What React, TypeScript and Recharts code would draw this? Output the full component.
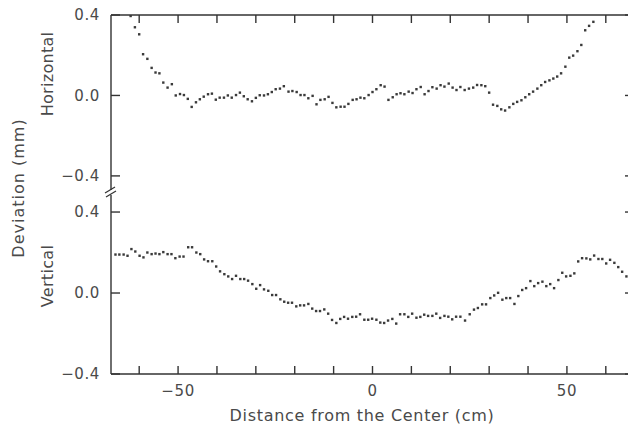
import React from 'react';
import { ScatterChart, Scatter, XAxis, YAxis } from 'recharts';

// Horizontal deviation (top panel)
const horizX = [
  -62.2, -61.1, -60.0, -59.0, -57.9, -56.8, -55.8, -54.8, -53.8, -52.7,
  -51.6, -50.6, -49.5, -48.5, -47.5, -46.5, -45.4, -44.4, -43.4, -42.3,
  -41.3, -40.3, -39.3, -38.2, -37.2, -36.2, -35.1, -34.1, -33.1, -32.1,
  -31.0, -30.0, -29.0, -27.9, -26.9, -25.9, -24.9, -23.8, -22.8, -21.6,
  -20.6, -19.5, -18.5, -17.5, -16.5, -15.4, -14.4, -13.4, -12.3, -11.3,
  -10.3, -9.3, -8.2, -7.2, -6.2, -5.1, -4.1, -3.1, -2.1, -1.0,
  0.0, 1.0, 2.1, 3.1, 4.1, 5.2, 6.2, 7.2, 8.2, 9.3,
  10.3, 11.3, 12.4, 13.4, 14.4, 15.4, 16.5, 17.5, 18.5, 19.6,
  20.6, 21.6, 22.6, 23.7, 24.8, 25.9, 26.9, 28.0, 29.0, 30.0,
  31.0, 32.1, 33.1, 34.1, 35.2, 36.2, 37.2, 38.3, 39.3, 40.3,
  41.3, 42.4, 43.4, 44.4, 45.5, 46.5, 47.5, 48.5, 49.6, 50.6,
  51.6, 52.7, 53.7, 54.7, 55.7, 56.8,
];
const horizY = [
  0.395, 0.339, 0.304, 0.205, 0.182, 0.137, 0.114, 0.110, 0.064, 0.039,
  0.056, 0.000, 0.007, 0.002, -0.017, -0.057, -0.034, -0.019, -0.006, 0.006,
  0.009, -0.021, -0.011, -0.011, 0.000, -0.011, 0.002, 0.014, -0.004, -0.019,
  -0.029, -0.012, 0.001, 0.000, 0.006, 0.017, 0.031, 0.034, 0.046, 0.019,
  0.022, 0.017, 0.002, 0.002, -0.014, -0.002, -0.044, -0.022, -0.019, -0.007,
  -0.037, -0.059, -0.056, -0.056, -0.042, -0.022, -0.019, -0.011, -0.014, 0.002,
  0.017, 0.031, 0.051, 0.044, -0.022, -0.009, 0.006, 0.011, 0.006, 0.019,
  0.012, 0.031, 0.042, 0.006, 0.022, 0.041, 0.034, 0.051, 0.044, 0.059,
  0.039, 0.027, 0.042, 0.027, 0.034, 0.039, 0.052, 0.051, 0.046, 0.014,
  -0.046, -0.052, -0.069, -0.075, -0.059, -0.042, -0.032, -0.024, -0.009, 0.006,
  0.019, 0.034, 0.051, 0.067, 0.075, 0.084, 0.094, 0.110, 0.143, 0.188,
  0.198, 0.220, 0.251, 0.324, 0.346, 0.366,
];

// Vertical deviation (bottom panel)
const vertX = [
  -66.1, -65.1, -64.0, -63.0, -62.0, -61.0, -59.9, -58.9, -57.9, -56.8,
  -55.8, -54.8, -53.8, -52.7, -51.7, -50.7, -49.6, -48.6, -47.4, -46.4,
  -45.3, -44.3, -43.3, -42.3, -41.2, -40.2, -39.2, -38.1, -37.1, -36.1,
  -35.1, -34.0, -33.0, -32.0, -30.9, -29.9, -28.9, -27.9, -26.8, -25.8,
  -24.8, -23.7, -22.7, -21.7, -20.7, -19.6, -18.6, -17.6, -16.5, -15.5,
  -14.5, -13.5, -12.4, -11.4, -10.4, -9.3, -8.3, -7.3, -6.3, -5.2,
  -4.2, -3.2, -2.1, -1.1, -0.1, 1.0, 2.0, 3.0, 4.0, 5.1,
  6.1, 7.1, 8.2, 9.2, 10.2, 11.3, 12.3, 13.3, 14.3, 15.4,
  16.4, 17.4, 18.5, 19.5, 20.5, 21.5, 22.6, 23.8, 25.0, 26.1,
  27.1, 28.2, 29.2, 30.3, 31.3, 32.3, 33.4, 34.4, 35.4, 36.5,
  37.5, 38.5, 39.5, 40.6, 41.6, 42.6, 43.7, 44.7, 45.7, 46.7,
  47.8, 48.8, 49.8, 50.9, 51.9, 52.9, 53.9, 55.0, 56.0, 57.0,
  58.1, 59.1, 60.1, 61.1, 62.2, 63.2, 64.2, 65.3,
];
const vertY = [
  0.190, 0.190, 0.190, 0.184, 0.217, 0.205, 0.184, 0.176, 0.200, 0.192,
  0.195, 0.192, 0.202, 0.192, 0.192, 0.172, 0.180, 0.180, 0.226, 0.226,
  0.200, 0.192, 0.166, 0.157, 0.157, 0.131, 0.107, 0.093, 0.082, 0.069,
  0.085, 0.069, 0.069, 0.061, 0.044, 0.021, 0.039, 0.018, 0.011, -0.010,
  -0.010, -0.031, -0.043, -0.048, -0.048, -0.066, -0.061, -0.061, -0.054, -0.077,
  -0.089, -0.089, -0.081, -0.102, -0.133, -0.148, -0.128, -0.118, -0.127, -0.118,
  -0.117, -0.105, -0.132, -0.132, -0.127, -0.132, -0.146, -0.148, -0.136, -0.128,
  -0.151, -0.105, -0.105, -0.118, -0.102, -0.122, -0.118, -0.107, -0.113, -0.113,
  -0.102, -0.123, -0.113, -0.117, -0.130, -0.117, -0.117, -0.136, -0.105, -0.082,
  -0.074, -0.056, -0.056, -0.025, -0.012, 0.001, -0.033, -0.025, -0.025, -0.054,
  -0.015, 0.015, 0.024, 0.059, 0.034, 0.049, 0.056, 0.034, 0.044, 0.024,
  0.064, 0.100, 0.082, 0.085, 0.097, 0.156, 0.172, 0.171, 0.166, 0.185,
  0.168, 0.168, 0.146, 0.164, 0.149, 0.128, 0.105, 0.082,
];

const xTicks = [-60, -50, -40, -30, -20, -10, 0, 10, 20, 30, 40, 50, 60];
const xLabelTicks = [-50, 0, 50];
const yTicks = [-0.4, 0, 0.4];

const X_DOMAIN: [number, number] = [-67.25, 67.25];
const INK = '#333';
const TEXT = '#4a4a4a';
const FONT = '"DejaVu Sans", sans-serif';

const horizData = horizX.map((x, i) => ({ x, y: horizY[i] }));
const vertData = vertX.map((x, i) => ({ x, y: vertY[i] }));

const minus = (v: number) => (v < 0 ? '\u2212' : '') + Math.abs(v).toFixed(1);
const xFmt = (v: number) =>
  xLabelTicks.includes(v) ? (v < 0 ? '\u2212' : '') + Math.abs(v) : '';

const Dot = (props: any) => {
  const { cx, cy } = props;
  if (cx == null || cy == null) return null;
  return <rect x={cx - 1.2} y={cy - 1.2} width={2.4} height={2.4} fill="#3a3a3a" />;
};

const tickFont = { fontSize: 15, fill: TEXT, fontFamily: FONT, letterSpacing: 0.6 };
const lineStyle = { stroke: INK, strokeWidth: 1.4 };

export default function App() {
  return (
    <div
      style={{
        position: 'absolute',
        left: 0,
        top: 0,
        width: 628,
        height: 433,
        overflow: 'hidden',
        background: '#fff',
        fontFamily: FONT,
      }}
    >
      {/* top panel: Horizontal */}
      <div style={{ position: 'absolute', left: 0, top: 0 }}>
        <ScatterChart width={650} height={200} margin={{ top: 14, left: 51, right: 15, bottom: 7 }}>
          <XAxis
            type="number"
            dataKey="x"
            orientation="top"
            domain={X_DOMAIN}
            allowDataOverflow
            ticks={xTicks}
            interval={0}
            tickFormatter={() => ''}
            tickSize={-8}
            height={1}
            axisLine={lineStyle}
            tickLine={lineStyle}
          />
          <YAxis
            yAxisId="l"
            type="number"
            dataKey="y"
            domain={[-0.485, 0.4]}
            allowDataOverflow
            ticks={yTicks}
            interval={0}
            tickFormatter={minus}
            tickSize={-9}
            tickMargin={20}
            width={60}
            tick={tickFont}
            axisLine={lineStyle}
            tickLine={lineStyle}
          />
          <YAxis
            yAxisId="r"
            orientation="right"
            type="number"
            domain={[-0.485, 0.4]}
            allowDataOverflow
            ticks={yTicks}
            interval={0}
            tickFormatter={() => ''}
            tickSize={-9}
            width={1}
            axisLine={lineStyle}
            tickLine={lineStyle}
          />
          <Scatter yAxisId="l" data={horizData} shape={Dot} isAnimationActive={false} />
        </ScatterChart>
      </div>

      {/* bottom panel: Vertical */}
      <div style={{ position: 'absolute', left: 0, top: 193 }}>
        <ScatterChart width={650} height={240} margin={{ top: 0, left: 51, right: 15, bottom: 9 }}>
          <XAxis
            type="number"
            dataKey="x"
            domain={X_DOMAIN}
            allowDataOverflow
            ticks={xTicks}
            interval={0}
            tickFormatter={xFmt}
            tickSize={-8}
            tickMargin={19}
            height={50}
            tick={tickFont}
            axisLine={lineStyle}
            tickLine={lineStyle}
          />
          <YAxis
            yAxisId="l"
            type="number"
            dataKey="y"
            domain={[-0.4, 0.494]}
            allowDataOverflow
            ticks={yTicks}
            interval={0}
            tickFormatter={minus}
            tickSize={-9}
            tickMargin={20}
            width={60}
            tick={tickFont}
            axisLine={lineStyle}
            tickLine={lineStyle}
          />
          <YAxis
            yAxisId="r"
            orientation="right"
            type="number"
            domain={[-0.4, 0.494]}
            allowDataOverflow
            ticks={yTicks}
            interval={0}
            tickFormatter={() => ''}
            tickSize={-9}
            width={1}
            axisLine={lineStyle}
            tickLine={lineStyle}
          />
          <Scatter yAxisId="l" data={vertData} shape={Dot} isAnimationActive={false} />
        </ScatterChart>
      </div>

      {/* axis titles and the axis break mark */}
      <svg
        width={628}
        height={433}
        style={{ position: 'absolute', left: 0, top: 0, pointerEvents: 'none' }}
      >
        <rect x={106} y={190} width={10} height={5} fill="#fff" />
        <line x1={105} y1={193} x2={115} y2={187} stroke={INK} strokeWidth={1.2} />
        <line x1={106} y1={197} x2={116} y2={191} stroke={INK} strokeWidth={1.2} />
        <text
          x={18}
          y={188}
          transform="rotate(-90 18 188)"
          textAnchor="middle"
          dominantBaseline="central"
          fontSize={16}
          fill={TEXT}
          letterSpacing={1}
        >
          Deviation (mm)
        </text>
        <text
          x={47}
          y={74}
          transform="rotate(-90 47 74)"
          textAnchor="middle"
          dominantBaseline="central"
          fontSize={16}
          fill={TEXT}
          letterSpacing={0.3}
        >
          Horizontal
        </text>
        <text
          x={47}
          y={276}
          transform="rotate(-90 47 276)"
          textAnchor="middle"
          dominantBaseline="central"
          fontSize={16}
          fill={TEXT}
          letterSpacing={0.3}
        >
          Vertical
        </text>
        <text
          x={362}
          y={415}
          textAnchor="middle"
          dominantBaseline="central"
          fontSize={16}
          fill={TEXT}
          letterSpacing={0.7}
        >
          Distance from the Center (cm)
        </text>
      </svg>
    </div>
  );
}
